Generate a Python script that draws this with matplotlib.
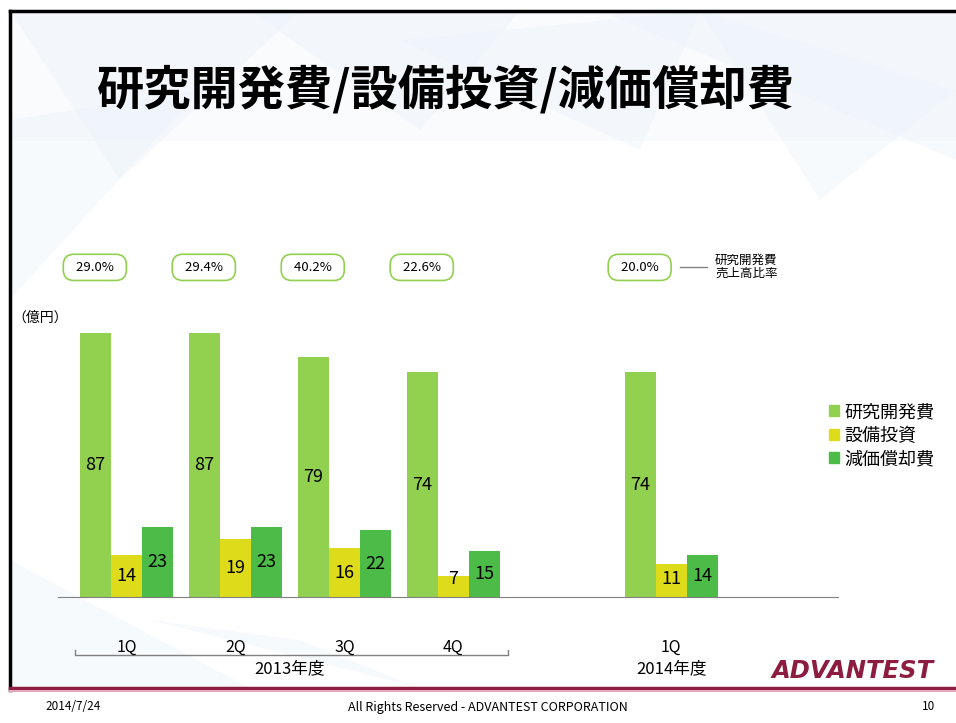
import matplotlib.pyplot as plt
import matplotlib.patches as mpatches
from matplotlib.lines import Line2D

plt.rcParams['font.family'] = ['Noto Sans CJK JP', 'DejaVu Sans']

# data
quarters = ["1Q", "2Q", "3Q", "4Q", "1Q"]
positions = [0, 1, 2, 3, 5]
rd = [87, 87, 79, 74, 74]
capex = [14, 19, 16, 7, 11]
depr = [23, 23, 22, 15, 14]
ratios = ["29.0%", "29.4%", "40.2%", "22.6%", "20.0%"]
series_names = ["研究開発費", "設備投資", "減価償却費"]
colors = ["#92d050", "#dedb1a", "#4cbb47"]

W, H = 956, 723
fig = plt.figure(figsize=(W / 100, H / 100), dpi=100)

# background / slide decoration layer (pixel coords)
bg = fig.add_axes([0, 0, 1, 1], zorder=0)
bg.set_xlim(0, W)
bg.set_ylim(H, 0)
bg.axis('off')
tris = [
    [(10, 11), (300, 11), (120, 180)],
    [(250, 11), (520, 11), (420, 130)],
    [(600, 11), (956, 11), (956, 160)],
    [(700, 11), (956, 90), (820, 200)],
    [(10, 120), (200, 90), (10, 300)],
    [(10, 560), (250, 688), (10, 688)],
    [(150, 620), (420, 688), (300, 640)],
    [(400, 40), (700, 11), (640, 150)],
]
for t in tris:
    bg.add_patch(mpatches.Polygon(t, closed=True, facecolor="#dbe8f6", alpha=0.2, edgecolor='none'))
bg.add_patch(mpatches.Rectangle((10, 11), W, 130, facecolor="#eef4fb", alpha=0.35, edgecolor='none'))
bg.plot([10, 956], [11, 11], color='black', lw=2.5)
bg.plot([10, 10], [11, 690], color='black', lw=2.5)
bg.plot([10, 956], [688, 688], color='#8c1d40', lw=2.5)
bg.plot([10, 956], [691, 691], color='#e7a7b8', lw=1.5)

bg.text(97, 90, "研究開発費/設備投資/減価償却費", fontsize=34, fontweight='bold', va='center', ha='left')
bg.text(12, 318, "（億円）", fontsize=10, va='center', ha='left')
bg.text(934, 671, "ADVANTEST", fontsize=17.5, fontweight='heavy', style='italic',
        color='#8c1d40', ha='right', va='center', family='DejaVu Sans')
bg.text(45, 707, "2014/7/24", fontsize=8.5, va='center', ha='left')
bg.text(488, 707, "All Rights Reserved - ADVANTEST CORPORATION", fontsize=9, va='center', ha='center')
bg.text(935, 707, "10", fontsize=8.5, va='center', ha='right')
bg.plot([680, 707], [267, 267], color='#808080', lw=1)
bg.text(715, 267, "研究開発費\n売上高比率", fontsize=9, va='center', ha='left', linespacing=0.95)

# chart axes
left, right, bottom, top = 58, 838, 597, 320
ax = fig.add_axes([left / W, 1 - bottom / H, (right - left) / W, (bottom - top) / H], zorder=1)
ax.patch.set_alpha(0)
bw = 31 / 109
ax.set_xlim(-0.628, 6.53)
ax.set_ylim(0, (bottom - top) / 3.034)

for i, (vals, c) in enumerate(zip([rd, capex, depr], colors)):
    xs = [p + (i - 1) * bw for p in positions]
    bars = ax.bar(xs, vals, width=bw, color=c, edgecolor='none', label=series_names[i])
    for x, v in zip(xs, vals):
        ax.text(x, max(v / 2, 6), str(v), ha='center', va='center', fontsize=13)

for s in ['top', 'right', 'left']:
    ax.spines[s].set_visible(False)
ax.spines['bottom'].set_color('#808080')
ax.set_xticks([])
ax.set_yticks([])

tr = ax.get_xaxis_transform()
for p, r in zip(positions, ratios):
    ax.text(p - 0.29, 1.19, "  " + r + "  ", transform=tr, ha='center', va='center', fontsize=9.5, clip_on=False,
            bbox=dict(boxstyle='round,pad=0.5,rounding_size=0.8', fc='white', ec='#92d050', lw=1.2))
for p, q in zip(positions, quarters):
    ax.text(p, -0.18, q, transform=tr, ha='center', va='center', fontsize=11.5, clip_on=False)

x0, x1 = -0.47, 3.5
ax.add_line(Line2D([x0, x0, x1, x1], [-0.19, -0.208, -0.208, -0.19], transform=tr,
                   color='#808080', lw=1, clip_on=False))
ax.text(1.5, -0.26, "2013年度", transform=tr, ha='center', va='center', fontsize=12, clip_on=False)
ax.text(5, -0.26, "2014年度", transform=tr, ha='center', va='center', fontsize=12, clip_on=False)

handles = [mpatches.Patch(color=c, label=n) for c, n in zip(colors, series_names)]
fig.legend(handles=handles, loc='upper left', bbox_to_anchor=(813 / W, 1 - 387 / H), frameon=False,
           fontsize=13, handlelength=0.55, handleheight=0.55, handletextpad=0.3, labelspacing=0.3)

fig.savefig('out.png', dpi=100)
